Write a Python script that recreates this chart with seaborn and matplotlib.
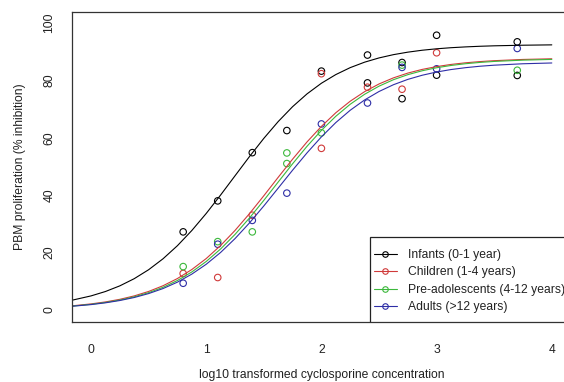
import numpy as np
import pandas as pd
import matplotlib
matplotlib.use("Agg")
import matplotlib.pyplot as plt
from matplotlib.lines import Line2D
from matplotlib.patches import Rectangle
import seaborn as sns

# ---------------- data ----------------
groups = ["Infants (0-1 year)", "Children (1-4 years)",
          "Pre-adolescents (4-12 years)", "Adults (>12 years)"]
colors = ["#000000", "#d03a3a", "#3cb83c", "#2e2ea6"]

# observed points (log10 concentration, % inhibition)
inf_x = [0.8, 1.1, 1.4, 1.7, 2.0, 2.4, 2.4, 2.7, 2.7, 3.0, 3.0, 3.7, 3.7]
inf_y = [27.2, 38.0, 54.8, 62.5, 83.2, 88.8, 79.1, 86.2, 73.6, 95.7, 81.8, 93.4, 81.7]
chi_x = [0.8, 1.1, 1.4, 2.0, 2.0, 2.4, 2.7, 3.0]
chi_y = [12.7, 11.3, 33.0, 82.3, 56.3, 77.6, 76.9, 89.6]
pre_x = [0.8, 1.1, 1.4, 1.7, 1.7, 2.0, 2.7, 3.7]
pre_y = [15.1, 23.8, 27.2, 54.7, 51.0, 61.7, 85.3, 83.5]
adu_x = [0.8, 1.1, 1.4, 1.7, 2.0, 2.4, 2.7, 3.0, 3.7]
adu_y = [9.3, 22.9, 31.2, 40.7, 64.8, 72.1, 84.5, 84.0, 91.1]

# fitted curves
curve_x = [-0.165, 0.0, 0.125, 0.25, 0.375, 0.5, 0.625, 0.75, 0.875, 1.0,
           1.125, 1.25, 1.375, 1.5, 1.625, 1.75, 1.875, 2.0, 2.125, 2.25,
           2.375, 2.5, 2.625, 2.75, 2.875, 3.0, 3.125, 3.25, 3.375, 3.5,
           3.75, 4.0]
inf_fit = [3.39, 4.89, 6.42, 8.39, 10.89, 14.01, 17.82, 22.38, 27.67, 33.61,
           40.04, 46.73, 53.40, 59.77, 65.63, 70.82, 75.27, 78.98, 82.00, 84.42,
           86.32, 87.80, 88.94, 89.81, 90.48, 90.98, 91.36, 91.64, 91.86, 92.02,
           92.23, 92.35]
chi_fit = [1.43, 2.10, 2.79, 3.70, 4.89, 6.44, 8.43, 10.94, 14.08, 17.90,
           22.45, 27.69, 33.52, 39.78, 46.22, 52.54, 58.53, 63.95, 68.70, 72.72,
           76.05, 78.73, 80.85, 82.52, 83.80, 84.78, 85.53, 86.10, 86.52, 86.84,
           87.27, 87.50]
pre_fit = [1.33, 1.95, 2.60, 3.45, 4.57, 6.02, 7.88, 10.26, 13.23, 16.88,
           21.24, 26.31, 32.01, 38.17, 44.57, 50.93, 57.01, 62.56, 67.47, 71.66,
           75.14, 77.96, 80.21, 81.97, 83.33, 84.38, 85.17, 85.78, 86.23, 86.58,
           87.03, 87.28]
adu_fit = [1.28, 1.86, 2.48, 3.28, 4.33, 5.70, 7.45, 9.68, 12.48, 15.91,
           20.03, 24.85, 30.29, 36.23, 42.45, 48.70, 54.72, 60.30, 65.28, 69.57,
           73.16, 76.10, 78.46, 80.32, 81.77, 82.89, 83.75, 84.40, 84.90, 85.27,
           85.77, 86.04]

y_ticks = [0, 20, 40, 60, 80, 100]
x_ticks = [0, 1, 2, 3, 4]

pts = [(inf_x, inf_y), (chi_x, chi_y), (pre_x, pre_y), (adu_x, adu_y)]
fits = [inf_fit, chi_fit, pre_fit, adu_fit]

df_pts = pd.concat([pd.DataFrame({"x": px, "y": py, "group": g})
                    for (px, py), g in zip(pts, groups)], ignore_index=True)
df_fit = pd.concat([pd.DataFrame({"x": curve_x, "y": f, "group": g})
                    for f, g in zip(fits, groups)], ignore_index=True)

# ---------------- plot ----------------
sns.set_style("white")
plt.rcParams["font.family"] = ["Liberation Sans", "DejaVu Sans"]
fs = 8.7
txt = "#222222"

W, H = 564, 382
fig = plt.figure(figsize=(W / 100, H / 100), dpi=100)
left, top, bottom = 72, 12, 322
ppu = 115.2
xlim = (-0.165, 4.2)
width_px = (xlim[1] - xlim[0]) * ppu
height_px = bottom - top
ax = fig.add_axes([left / W, (H - bottom) / H, width_px / W, height_px / H])

pal = dict(zip(groups, colors))
sns.lineplot(data=df_fit, x="x", y="y", hue="group", hue_order=groups,
             palette=pal, estimator=None, sort=True, linewidth=0.8,
             legend=False, ax=ax)
for g, c in zip(groups, colors):
    d = df_pts[df_pts["group"] == g]
    sns.scatterplot(x=d["x"], y=d["y"], marker="o", s=22, facecolor="none",
                    edgecolor=c, linewidth=0.8, ax=ax, legend=False)

ax.set_xlim(*xlim)
ax.set_ylim(-4.2, 103.8)
ax.set_xticks(x_ticks)
ax.set_yticks(y_ticks)
ax.set_xticklabels([str(t) for t in x_ticks], fontsize=fs, color=txt)
ax.set_yticklabels([str(t) for t in y_ticks], fontsize=fs, color=txt,
                   rotation=90, va="center")
ax.tick_params(axis="x", length=5, width=0.8, pad=11, color="#333333")
ax.tick_params(axis="y", length=5, width=0.8, pad=7, color="#333333")
for s in ax.spines.values():
    s.set_color("#333333")
    s.set_linewidth(0.9)
ax.set_xlabel("log10 transformed cyclosporine concentration", fontsize=fs,
              color=txt)
ax.set_ylabel("PBM proliferation (% inhibition)", fontsize=fs, color=txt)
ax.xaxis.set_label_coords(((W / 2 + 40) - left) / width_px,
                          -(375 - bottom) / height_px)
ax.yaxis.set_label_coords(-(left - 20) / width_px, 0.5)
ax.xaxis.label.set_va("center")
ax.yaxis.label.set_va("center")

# legend box (R style, anchored to bottom-right of the plot region)
box_x0 = (370 - left) / width_px
box_h = (bottom - 237) / height_px
ax.add_patch(Rectangle((box_x0, 0), 1 - box_x0, box_h, transform=ax.transAxes,
                       facecolor="white", edgecolor="#222222", linewidth=0.9,
                       zorder=4))
handles = [Line2D([0], [0], color=c, lw=0.8, marker="o", mfc="none", mec=c,
                  ms=4, mew=0.8) for c in colors]
leg = ax.legend(handles, groups, loc="upper left",
                bbox_to_anchor=((374 - left) / width_px, (bottom - 249) / height_px),
                borderaxespad=0, borderpad=0, fontsize=fs, frameon=False,
                handlelength=1.9, handletextpad=0.9, labelspacing=0.45)
leg.set_zorder(5)
for t in leg.get_texts():
    t.set_color(txt)

fig.savefig("out.png", dpi=100)
